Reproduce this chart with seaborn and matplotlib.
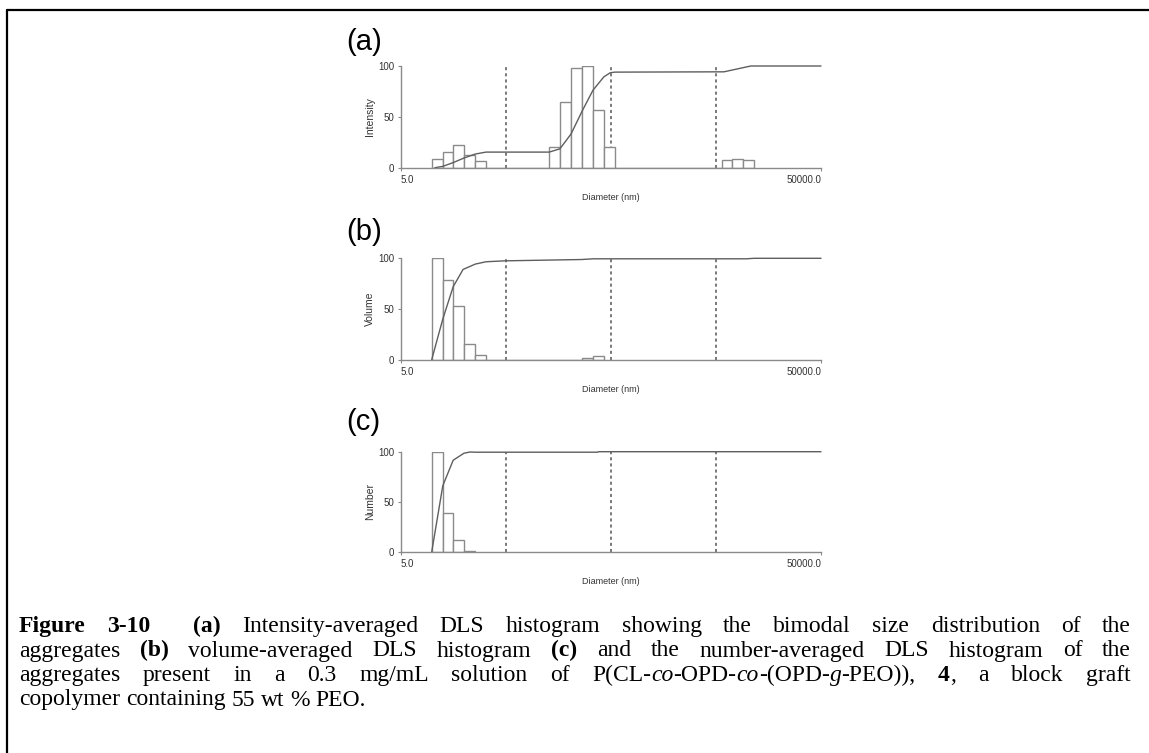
import re
import numpy as np
import matplotlib
matplotlib.use("Agg")
import matplotlib.pyplot as plt
import seaborn as sns
from matplotlib.ticker import FixedLocator, NullLocator
from matplotlib.lines import Line2D

# ---------------- data ----------------
panel_labels = ["(a)", "(b)", "(c)"]
y_labels = ["Intensity", "Volume", "Number"]
x_label = "Diameter (nm)"
x_tick_values = [5.0, 50000.0]
x_tick_labels = ["5.0", "50000.0"]
y_tick_values = [0, 50, 100]
ref_diameters = [50, 500, 5000]

# histogram bin edges (nm) and bar heights (zero = gap between groups)
a_edges = [9.8, 12.5, 15.7, 19.9, 25.5, 32.3, 129, 163, 208, 267, 337, 427, 542,
           5662, 7145, 9036, 11429]
a_heights = [9, 15, 22, 12, 7, 0, 20, 64, 98, 100, 57, 20, 0, 8, 9, 8]

b_edges = [9.8, 12.5, 15.7, 19.9, 25.5, 32.3, 267, 337, 427]
b_heights = [100, 79, 53, 15, 4.5, 0, 1.5, 3.5]

c_edges = [9.8, 12.5, 15.7, 19.9, 25.5]
c_heights = [100, 39, 12, 1]

# cumulative curves (nm, %)
a_cum_x = [10.5, 12.5, 15.7, 19.9, 25.5, 32.3, 129, 163, 208, 267, 337, 427, 490, 542,
           5957, 10715, 50000]
a_cum_y = [0, 1.3, 5, 9.5, 13.4, 15.3, 15.3, 18.5, 33, 56, 76, 89, 93, 93.7, 94, 99.7, 99.7]

b_cum_x = [9.8, 12.5, 15.7, 19.5, 25.5, 32.3, 49, 263, 339, 9772, 11482, 50000]
b_cum_y = [0, 40, 72, 89, 94.3, 96.6, 97.5, 98.8, 99.5, 99.5, 100, 100]

c_cum_x = [9.8, 12.5, 15.7, 19.9, 22.7, 25.5, 373, 380, 50000]
c_cum_y = [0, 66, 91.5, 98.5, 99.7, 99.5, 99.5, 100, 100]

caption_lines = [
    "**Figure 3-10**  **(a)** Intensity-averaged DLS histogram showing the bimodal size distribution of the",
    "aggregates **(b)** volume-averaged DLS histogram **(c)** and the number-averaged DLS histogram of the",
    "aggregates present in a 0.3 mg/mL solution of P(CL-*co*-OPD-*co*-(OPD-*g*-PEO)), **4**, a block graft",
    "copolymer containing 55 wt % PEO.",
]

panels = [
    (a_edges, a_heights, a_cum_x, a_cum_y),
    (b_edges, b_heights, b_cum_x, b_cum_y),
    (c_edges, c_heights, c_cum_x, c_cum_y),
]

# ---------------- style / layout ----------------
sns.set_theme(style="white")
plt.rcParams['font.family'] = ['Liberation Sans', 'DejaVu Sans']

W, H = 1149, 753
fig = plt.figure(figsize=(W / 100, H / 100), dpi=100)

axes_top_px = [65.7, 258.3, 451.7]
axes_bot_px = [167.7, 359.7, 552.0]
label_base_px = [50, 240, 430]
ax_left_px, ax_w_px = 401, 420

bar_edge = "#8a8a8a"
curve_col = "#5e5e5e"
spine_col = "#8a8a8a"
ref_col = "#555555"

for i, (edges, heights, cx, cy) in enumerate(panels):
    top, bot = axes_top_px[i], axes_bot_px[i]
    ax = fig.add_axes([ax_left_px / W, 1 - bot / H, ax_w_px / W, (bot - top) / H])
    edges = np.asarray(edges, float)
    centers = np.sqrt(edges[:-1] * edges[1:])
    sns.histplot(x=list(centers), weights=list(heights),
                 bins=[float(v) for v in np.log10(edges)], log_scale=True,
                 stat="count", element="bars", fill=True, facecolor="white",
                 edgecolor=bar_edge, linewidth=1.0, alpha=1, ax=ax)
    sns.lineplot(x=cx, y=cy, ax=ax, color=curve_col, linewidth=1.0, clip_on=False)
    for d in ref_diameters:
        ax.axvline(d, color=ref_col, linestyle=(0, (2, 2)), linewidth=1.1, zorder=0.5)

    ax.set_xlim(x_tick_values[0], x_tick_values[-1])
    ax.set_ylim(0, 100)
    ax.xaxis.set_major_locator(FixedLocator(x_tick_values))
    ax.xaxis.set_minor_locator(NullLocator())
    ax.set_xticklabels(x_tick_labels)
    ax.set_yticks(y_tick_values)
    ax.set_yticklabels([str(v) for v in y_tick_values])
    tl = ax.get_xticklabels()
    tl[0].set_horizontalalignment("left")
    tl[-1].set_horizontalalignment("right")
    ax.tick_params(axis="both", which="major", labelsize=7, length=2.5, width=0.8,
                   color=spine_col, labelcolor="#333333", pad=2.5,
                   bottom=True, left=True)
    for s in ["top", "right"]:
        ax.spines[s].set_visible(False)
    for s in ["left", "bottom"]:
        ax.spines[s].set_color(spine_col)
        ax.spines[s].set_linewidth(1.0)
    ax.set_facecolor("none")
    h_px = bot - top
    ax.set_xlabel(x_label, fontsize=6.5, color="#333333")
    ax.xaxis.set_label_coords(0.5, -25 / h_px)
    ax.set_ylabel(y_labels[i], fontsize=7.5, color="#333333")
    ax.yaxis.set_label_coords(-26 / ax_w_px, 0.5)

    fig.text(346.7 / W, 1 - label_base_px[i] / H, panel_labels[i], fontsize=21,
             ha="left", va="baseline", color="black")

# ---------------- border ----------------
fig.add_artist(Line2D([7 / W, 1.0], [1 - 10 / H, 1 - 10 / H], color="black",
                      linewidth=1.6, transform=fig.transFigure))
fig.add_artist(Line2D([7 / W, 7 / W], [1 - 10 / H, 0.0], color="black",
                      linewidth=1.6, transform=fig.transFigure))

# ---------------- caption (justified) ----------------
cap_font = ['Liberation Serif', 'DejaVu Serif']
cap_size = 17.0
cap_left, cap_right = 19, 1131
cap_base_px = [632, 656.5, 681, 705.5]


def parse(line):
    segs = re.split(r'(\*\*.+?\*\*|\*.+?\*)', line)
    runs = []
    for s in segs:
        if not s:
            continue
        if s.startswith('**'):
            runs.append((s[2:-2], 'bold'))
        elif s.startswith('*'):
            runs.append((s[1:-1], 'italic'))
        else:
            runs.append((s, 'normal'))
    words, cur, pend = [], [], 0
    for text, st in runs:
        buf = ''
        for ch in text:
            if ch == ' ':
                if buf:
                    cur.append((buf, st))
                    buf = ''
                if cur:
                    words.append((pend, cur))
                    cur = []
                    pend = 0
                pend += 1
            else:
                buf += ch
        if buf:
            cur.append((buf, st))
    if cur:
        words.append((pend, cur))
    return words


fig.canvas.draw()
renderer = fig.canvas.get_renderer()
avail = cap_right - cap_left

for li, line in enumerate(caption_lines):
    words = parse(line)
    ybase = 1 - cap_base_px[li] / H
    items, total = [], 0.0
    for pend, runs in words:
        wl = []
        for text, st in runs:
            t = fig.text(0, ybase, text, fontsize=cap_size, family=cap_font,
                         fontweight='bold' if st == 'bold' else 'normal',
                         fontstyle='italic' if st == 'italic' else 'normal',
                         ha='left', va='baseline', color='black')
            w = t.get_window_extent(renderer).width
            wl.append((t, w))
            total += w
        items.append((pend, wl))
    nsp = sum(p for p, _ in items)
    if li < len(caption_lines) - 1:
        per_space = (avail - total) / nsp
    else:
        per_space = cap_size * 100 / 72 * 0.25
    x = cap_left
    for pend, wl in items:
        x += pend * per_space
        for t, w in wl:
            t.set_x(x / W)
            x += w

fig.savefig("out.png", dpi=100, facecolor="white")
